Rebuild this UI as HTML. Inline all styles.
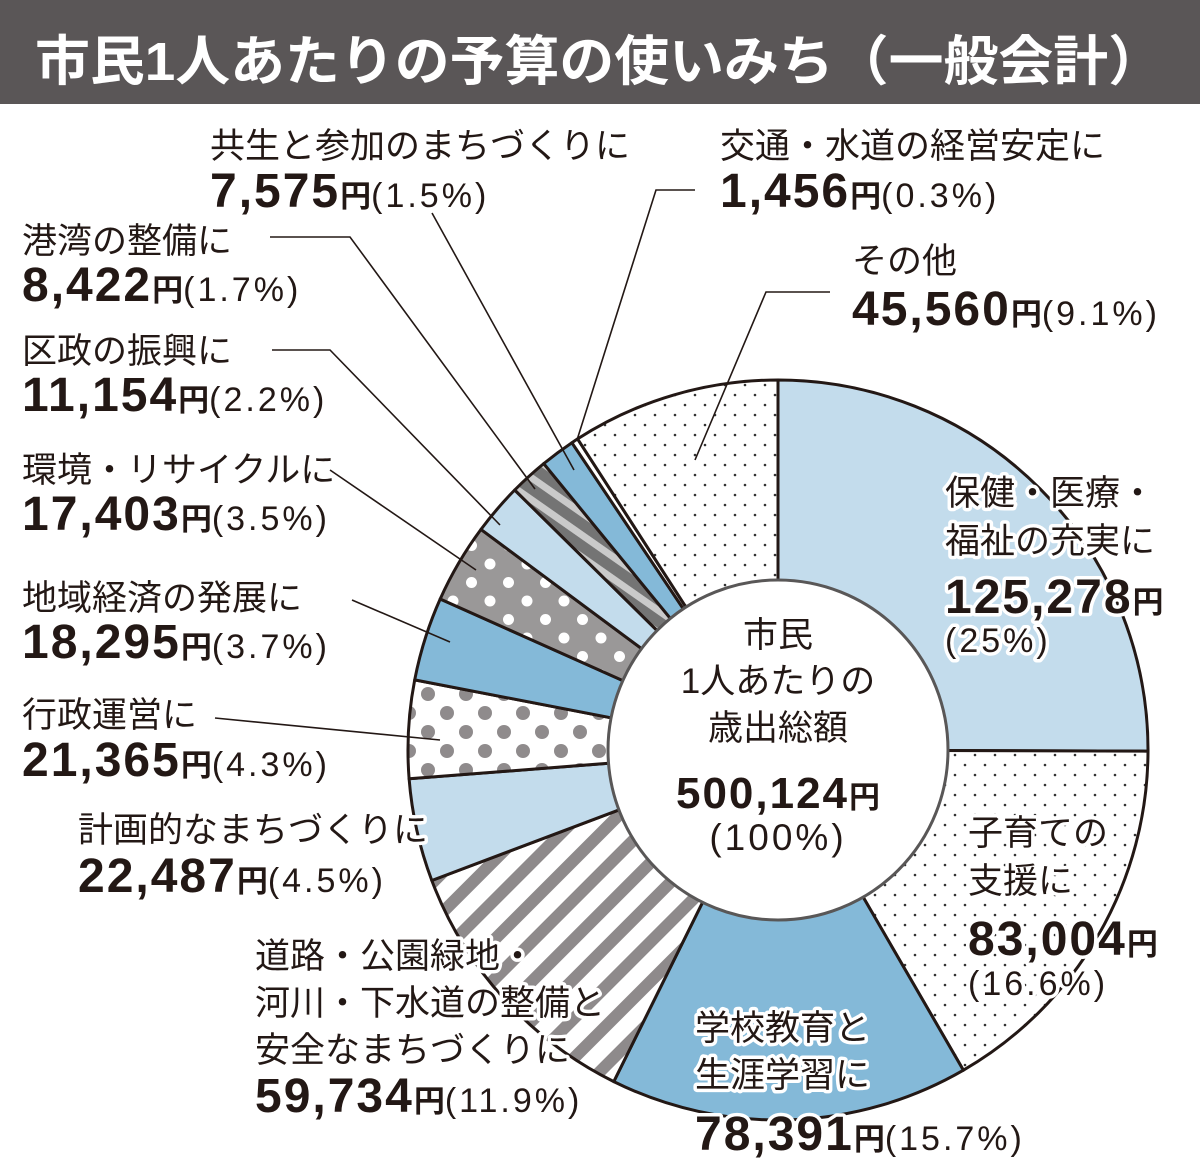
<!DOCTYPE html>
<html><head><meta charset="utf-8"><style>
html,body{margin:0;padding:0;background:#fff;}
svg{display:block;}
text{font-family:"Liberation Sans","Noto Sans CJK JP",sans-serif;fill:#231815;}
.j{font-size:35px;}
.n{font-size:48px;font-weight:bold;letter-spacing:2px;}
.u{font-size:31px;font-weight:bold;}
.p{font-size:34px;letter-spacing:3px;}
.h{paint-order:stroke;stroke:#fff;stroke-width:7px;stroke-linejoin:round;}
</style></head><body>
<svg width="1200" height="1172" viewBox="0 0 1200 1172" xmlns="http://www.w3.org/2000/svg">
<defs>
<pattern id="sd" width="20" height="20" patternUnits="userSpaceOnUse">
<rect width="20" height="20" fill="#fff"/><circle cx="5" cy="5" r="1.3" fill="#333"/><circle cx="15" cy="15" r="1.3" fill="#333"/></pattern>
<pattern id="gd" width="37" height="37" patternUnits="userSpaceOnUse">
<rect width="37" height="37" fill="#9a9898"/><circle cx="9" cy="9" r="5.5" fill="#fff"/><circle cx="27.5" cy="27.5" r="5.5" fill="#fff"/></pattern>
<pattern id="wd" width="38" height="38" patternUnits="userSpaceOnUse">
<rect width="38" height="38" fill="#fff"/><circle cx="10" cy="10" r="7" fill="#8f8b8c"/><circle cx="29" cy="29" r="7" fill="#8f8b8c"/></pattern>
<pattern id="st" width="28" height="28" patternUnits="userSpaceOnUse" patternTransform="rotate(45)">
<rect width="28" height="28" fill="#fff"/><rect width="12" height="28" fill="#8e8a8b"/></pattern>
<pattern id="ds" width="18" height="18" patternUnits="userSpaceOnUse" patternTransform="rotate(-55)">
<rect width="18" height="18" fill="#747474"/><rect width="7" height="18" fill="#cacaca"/></pattern>
</defs>
<rect x="0" y="0" width="1200" height="104" fill="#5a5657"/>
<text x="35" y="80" font-size="54" font-weight="bold" style="fill:#fff" textLength="1128" lengthAdjust="spacingAndGlyphs" font-family="Noto Sans CJK JP">市民1人あたりの予算の使いみち（一般会計）</text>

<g stroke="#231815" stroke-width="3" stroke-linejoin="round">
<path d="M778,750 L778,380 A370,370 0 0 1 1148,751.2 Z" fill="#c3dcec"/>
<path d="M778,750 L1148,751.2 A370,370 0 0 1 963.4,1070.2 Z" fill="url(#sd)"/>
<path d="M778,750 L963.4,1070.2 A370,370 0 0 1 613.8,1081.6 Z" fill="#84b9d8"/>
<path d="M778,750 L613.8,1081.6 A370,370 0 0 1 431.8,880.5 Z" fill="url(#st)"/>
<path d="M778,750 L431.8,880.5 A370,370 0 0 1 409.1,778.8 Z" fill="#c3dcec"/>
<path d="M778,750 L409.1,778.8 A370,370 0 0 1 414.7,679.9 Z" fill="url(#wd)"/>
<path d="M778,750 L414.7,679.9 A370,370 0 0 1 440.2,599 Z" fill="#84b9d8"/>
<path d="M778,750 L440.2,599 A370,370 0 0 1 481,529.4 Z" fill="url(#gd)"/>
<path d="M778,750 L481,529.4 A370,370 0 0 1 514.7,490 Z" fill="#c3dcec"/>
<path d="M778,750 L514.7,490 A370,370 0 0 1 543.7,463.6 Z" fill="url(#ds)"/>
<path d="M778,750 L543.7,463.6 A370,370 0 0 1 571.9,442.7 Z" fill="#84b9d8"/>
<path d="M778,750 L571.9,442.7 A370,370 0 0 1 577.6,438.9 Z" fill="#fff"/>
<path d="M778,750 L577.6,438.9 A370,370 0 0 1 778,380 Z" fill="url(#sd)"/>
</g>
<circle cx="778" cy="750" r="170" fill="#fff" stroke="#595757" stroke-width="3"/>

<g stroke="#231815" stroke-width="1.6" fill="none">
<polyline points="432,213 574,470"/>
<polyline points="695,190 656,190 577,440"/>
<polyline points="270,237 350,237 535,489"/>
<polyline points="830,292 766,292 695,460"/>
<polyline points="272,350 330,350 500,525"/>
<polyline points="330,470 476,570"/>
<polyline points="352,600 450,642"/>
<polyline points="215,718 440,740"/>
</g>

<text x="210" y="158" class="j">共生と参加のまちづくりに</text>
<text x="210" y="207"><tspan class="n">7,575</tspan><tspan class="u">円</tspan><tspan class="p">(1.5%)</tspan></text>
<text x="720" y="158" class="j">交通・水道の経営安定に</text>
<text x="720" y="207"><tspan class="n">1,456</tspan><tspan class="u">円</tspan><tspan class="p">(0.3%)</tspan></text>
<text x="22" y="253" class="j">港湾の整備に</text>
<text x="22" y="301"><tspan class="n">8,422</tspan><tspan class="u">円</tspan><tspan class="p">(1.7%)</tspan></text>
<text x="852" y="273" class="j">その他</text>
<text x="852" y="325"><tspan class="n">45,560</tspan><tspan class="u">円</tspan><tspan class="p">(9.1%)</tspan></text>
<text x="22" y="363" class="j">区政の振興に</text>
<text x="22" y="411"><tspan class="n">11,154</tspan><tspan class="u">円</tspan><tspan class="p">(2.2%)</tspan></text>
<text x="22" y="482" class="j">環境・リサイクルに</text>
<text x="22" y="530"><tspan class="n">17,403</tspan><tspan class="u">円</tspan><tspan class="p">(3.5%)</tspan></text>
<text x="22" y="610" class="j">地域経済の発展に</text>
<text x="22" y="658"><tspan class="n">18,295</tspan><tspan class="u">円</tspan><tspan class="p">(3.7%)</tspan></text>
<text x="22" y="727" class="j">行政運営に</text>
<text x="22" y="776"><tspan class="n">21,365</tspan><tspan class="u">円</tspan><tspan class="p">(4.3%)</tspan></text>
<text x="78" y="842" class="j h">計画的なまちづくりに</text>
<text x="78" y="892" class="h"><tspan class="n">22,487</tspan><tspan class="u">円</tspan><tspan class="p">(4.5%)</tspan></text>
<text x="255" y="968" class="j h">道路・公園緑地・</text>
<text x="255" y="1015" class="j h">河川・下水道の整備と</text>
<text x="255" y="1062" class="j h">安全なまちづくりに</text>
<text x="255" y="1112" class="h"><tspan class="n">59,734</tspan><tspan class="u">円</tspan><tspan class="p">(11.9%)</tspan></text>

<text x="945" y="505" class="j h">保健・医療・</text>
<text x="945" y="553" class="j h">福祉の充実に</text>
<text x="945" y="613" class="h"><tspan class="n">125,278</tspan><tspan class="u">円</tspan></text>
<text x="945" y="652" class="p h">(25%)</text>
<text x="968" y="845" class="j h">子育ての</text>
<text x="968" y="893" class="j h">支援に</text>
<text x="968" y="955" class="h"><tspan class="n">83,004</tspan><tspan class="u">円</tspan></text>
<text x="968" y="995" class="p h">(16.6%)</text>
<text x="695" y="1040" class="j h">学校教育と</text>
<text x="695" y="1087" class="j h">生涯学習に</text>
<text x="695" y="1150" class="h"><tspan class="n">78,391</tspan><tspan class="u">円</tspan><tspan class="p">(15.7%)</tspan></text>

<g text-anchor="middle">
<text x="778" y="647" class="j">市民</text>
<text x="778" y="693" class="j">1人あたりの</text>
<text x="778" y="740" class="j">歳出総額</text>
<text x="778" y="808"><tspan class="n" style="font-size:44px">500,124</tspan><tspan class="u">円</tspan></text>
<text x="778" y="850" class="p" style="font-size:37px">(100%)</text>
</g>
</svg>
</body></html>
